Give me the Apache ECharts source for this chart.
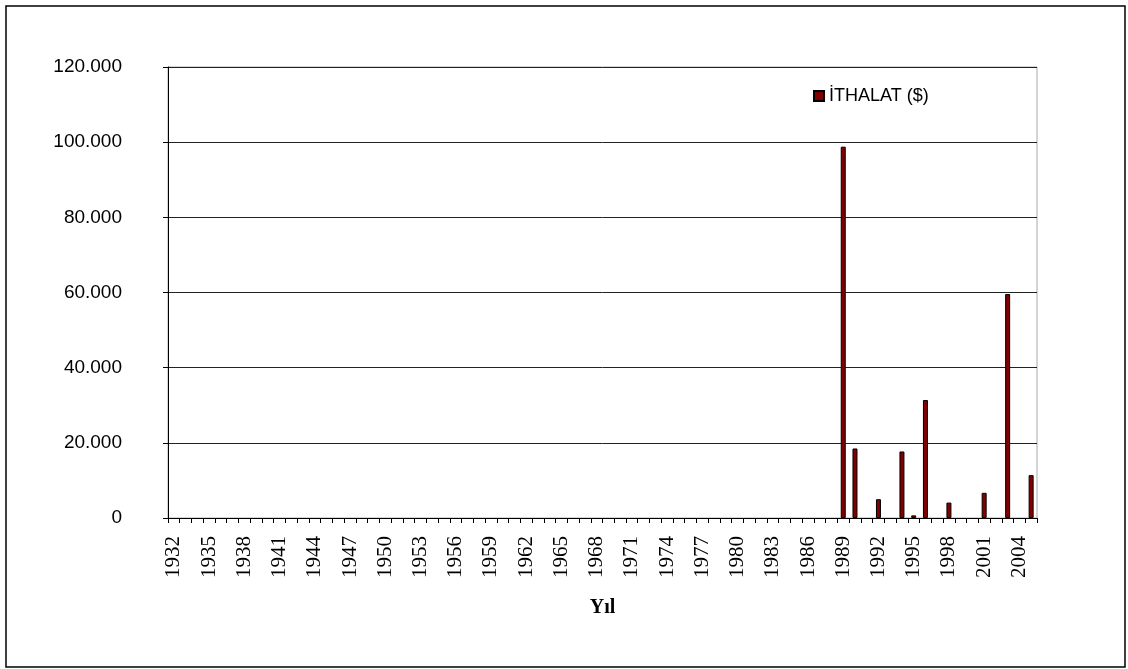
<!DOCTYPE html>
<html>
<head>
<meta charset="utf-8">
<script src="https://cdn.jsdelivr.net/npm/echarts@6/dist/echarts.min.js"></script>
<style>
html,body{margin:0;padding:0;background:#fff;}
#c{width:1128px;height:669px;}
</style>
</head>
<body>
<div id="c"></div>
<script>
var years = ['1932','1933','1934','1935','1936','1937','1938','1939','1940','1941','1942','1943','1944','1945','1946','1947','1948','1949','1950','1951','1952','1953','1954','1955','1956','1957','1958','1959','1960','1961','1962','1963','1964','1965','1966','1967','1968','1969','1970','1971','1972','1973','1974','1975','1976','1977','1978','1979','1980','1981','1982','1983','1984','1985','1986','1987','1988','1989','1990','1991','1992','1993','1994','1995','1996','1997','1998','1999','2000','2001','2002','2003','2004','2005'];
var ithalat = [0,0,0,0,0,0,0,0,0,0,0,0,0,0,0,0,0,0,0,0,0,0,0,0,0,0,0,0,0,0,0,0,0,0,0,0,0,0,0,0,0,0,0,0,0,0,0,0,0,0,0,0,0,0,0,0,0,
  98800,18500,0,5000,0,17700,700,31400,0,4100,0,0,6700,0,59600,0,11400];
var seriesName = 'İTHALAT ($)';
var yTicks = [0,20000,40000,60000,80000,100000,120000];

function fmt(v){
  var s = String(Math.round(v));
  return s.replace(/\B(?=(\d{3})+(?!\d))/g, '.');
}
// zero values are drawn as empty (no visible mark, as in the original)
var barData = ithalat.map(function(v){ return v === 0 ? '-' : v; });

var chart = echarts.init(document.getElementById('c'), null, {renderer:'canvas'});
chart.setOption({
  animation:false,
  backgroundColor:'#fff',
  graphic:[{type:'rect', shape:{x:6,y:6,width:1119,height:661}, style:{fill:'none', stroke:'#000', lineWidth:1.5}, z:-1}],
  grid:{left:168, right:91, top:67, bottom:151, show:true, borderColor:'#aaa', borderWidth:1, backgroundColor:'transparent'},
  legend:{
    data:[seriesName], left:808, top:82, itemWidth:10, itemHeight:10, itemGap:5, icon:'rect',
    textStyle:{fontFamily:'Liberation Sans, Arial', fontSize:18, color:'#000'}
  },
  xAxis:{
    type:'category', data:years, boundaryGap:true,
    axisLine:{lineStyle:{color:'#000', width:1}},
    axisTick:{show:true, interval:0, length:5, lineStyle:{color:'#000'}},
    axisLabel:{interval:2, rotate:90, margin:18, color:'#000', fontFamily:'Liberation Serif, Times New Roman', fontSize:21},
    name:'Yıl', nameLocation:'middle', nameGap:80,
    nameTextStyle:{fontFamily:'Liberation Serif, Times New Roman', fontWeight:'bold', fontSize:20, color:'#000'}
  },
  yAxis:{
    type:'value', min:yTicks[0], max:yTicks[yTicks.length-1], interval:20000,
    axisLine:{show:true, lineStyle:{color:'#000'}},
    axisTick:{show:true, length:5, lineStyle:{color:'#000'}},
    axisLabel:{margin:46, color:'#000', fontFamily:'Liberation Sans, Arial', fontSize:19, formatter:fmt},
    splitLine:{show:true, lineStyle:{color:'#222', width:1}}
  },
  series:[{
    name:seriesName, type:'bar', data:barData, barWidth:5,
    itemStyle:{color:'#800000', borderColor:'#000', borderWidth:1}
  }]
});
</script>
</body>
</html>
